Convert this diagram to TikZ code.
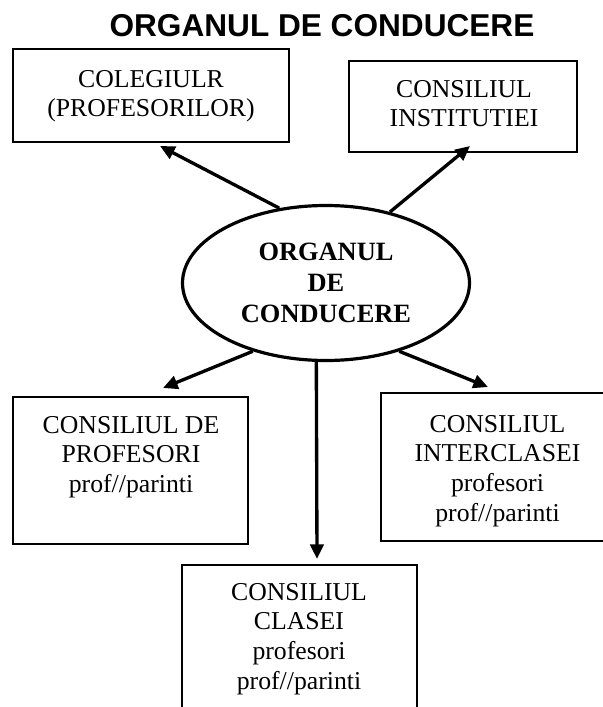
\documentclass[tikz,border=0pt]{standalone}
\usepackage{fontspec}
\setmainfont{Liberation Serif}
\newfontfamily\titlefont{Liberation Sans}
\usetikzlibrary{arrows.meta,shapes.geometric}
\newcommand\pxu{0.75pt}
\tikzset{
  boxframe/.style={draw, line width=1.4pt, rectangle, inner sep=0pt},
  boxtext/.style={anchor=north, inner sep=0pt, align=center,
    font=\fontsize{19.3}{22.2}\selectfont},
  arr/.style={line width=2.5pt, -{Triangle[length=11pt,width=10pt]}},
}
\begin{document}
\begin{tikzpicture}[x=0.75pt,y=-0.75pt]
\useasboundingbox (0,0) rectangle (603,707);
\clip (0,0) rectangle (603,707);
% title
\node[anchor=base, inner sep=0pt, font=\titlefont\bfseries\fontsize{23.7}{28}\selectfont] (title) at (322,36) {ORGANUL DE CONDUCERE};
% boxes
\node[boxframe, minimum width=276*\pxu, minimum height=93*\pxu] (b1) at (151,95.5) {};
\node[boxframe, minimum width=228*\pxu, minimum height=91*\pxu] (b2) at (463,106.5) {};
\node[boxframe, minimum width=235*\pxu, minimum height=147*\pxu] (b3) at (130.5,470.5) {};
\node[boxframe, minimum width=233*\pxu, minimum height=148*\pxu] (b4) at (497.5,467) {};
\node[boxframe, minimum width=235*\pxu, minimum height=195*\pxu] (b5) at (299.5,662.5) {};
% texts
\node[boxtext] (t1) at (151,70) {COLEGIULR\\(PROFESORILOR)};
\node[boxtext] (t2) at (464,80) {CONSILIUL\\INSTITUTIEI};
\node[boxtext] (t3) at (131,416) {CONSILIUL DE\\PROFESORI\\prof//parinti};
\node[boxtext] (t4) at (497.5,415) {CONSILIUL\\INTERCLASEI\\profesori\\prof//parinti};
\node[boxtext] (t5) at (299,583) {CONSILIUL\\CLASEI\\profesori\\prof//parinti};
% ellipse
\node[ellipse, draw, line width=2.4pt, inner sep=0pt, minimum width=287*\pxu, minimum height=155*\pxu,
  align=center, font=\bfseries\fontsize{19.8}{23.3}\selectfont] (e) at (326,283) {ORGANUL\\DE\\CONDUCERE};
% arrow tips
\coordinate (c1) at (160,146);
\coordinate (c2) at (470,146);
\coordinate (c3) at (163,388);
\coordinate (c4) at (488,387);
\coordinate (c5) at (317,559);
\draw[arr] (e.122) -- (c1);
\draw[arr] (e.48) -- (c2);
\draw[arr] (e.223) -- (c3);
\draw[arr] (e.317) -- (c4);
\draw[arr] (e.263) -- (c5);
\end{tikzpicture}
\end{document}
